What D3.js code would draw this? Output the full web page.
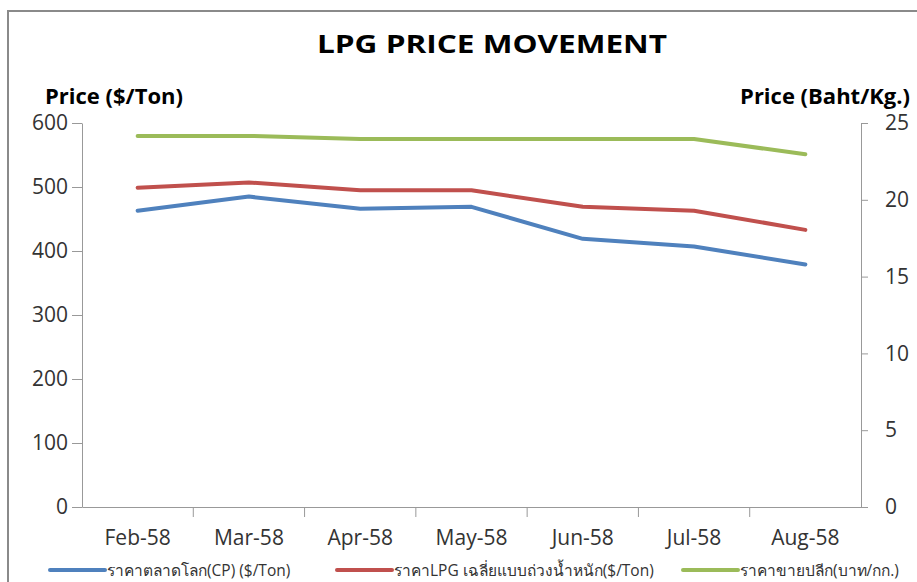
<!DOCTYPE html>
<html>
<head>
<meta charset="utf-8">
<script src="https://d3js.org/d3.v7.min.js"></script>
<style>
body { margin:0; background:#fff; }
text { font-family: "Open Sans", "Noto Sans", sans-serif; }
.axis path, .axis line { stroke:#999; }
.axis text { fill:#333; font-size:21px; font-family: "Open Sans", sans-serif; }
</style>
</head>
<body>
<svg id="chart" width="917" height="582"></svg>
<script>
// data
var months = ["Feb-58","Mar-58","Apr-58","May-58","Jun-58","Jul-58","Aug-58"];
var cpPrice = [463, 485, 466, 469, 419, 407, 379];        // $/Ton
var lpgAvgPrice = [499, 507, 495, 495, 469, 463, 433];    // $/Ton
var retailPrice = [24.16, 24.16, 23.96, 23.96, 23.96, 23.96, 22.96]; // Baht/Kg
var leftTicks = [0,100,200,300,400,500,600];
var rightTicks = [0,5,10,15,20,25];

var svg = d3.select("#chart");

// frame
svg.append("rect")
  .attr("x", 8).attr("y", 11)
  .attr("width", 930).attr("height", 600)
  .attr("fill", "none").attr("stroke", "#8a8a8a").attr("stroke-width", 2);

var plotLeft = 82, plotRight = 861, plotTop = 123, plotBottom = 507;

var x = d3.scaleBand().domain(months).range([plotLeft, plotRight]);
var yL = d3.scaleLinear().domain([0, 600]).range([plotBottom, plotTop]);
var yR = d3.scaleLinear().domain([0, 25]).range([plotBottom, plotTop]);

// axes
svg.append("g").attr("class","axis")
  .attr("transform","translate("+plotLeft+",0)")
  .call(d3.axisLeft(yL).tickValues(leftTicks).tickSize(10).tickSizeOuter(0).tickPadding(4));

svg.append("g").attr("class","axis")
  .attr("transform","translate("+plotRight+",0)")
  .call(d3.axisRight(yR).tickValues(rightTicks).tickSize(7).tickSizeOuter(0).tickPadding(17));

var xAxis = svg.append("g").attr("class","axis")
  .attr("transform","translate(0,"+plotBottom+")")
  .call(d3.axisBottom(x).tickSize(0).tickSizeOuter(0).tickPadding(23));
// ticks between categories
xAxis.selectAll(".sep")
  .data(months.slice(1))
  .enter().append("line")
  .attr("x1", function(d){ return x(d); })
  .attr("x2", function(d){ return x(d); })
  .attr("y1", 0).attr("y2", 10)
  .attr("stroke", "#999");

// lines
var series = [
  { name:"ราคาตลาดโลก(CP) ($/Ton)", values: cpPrice, scale: yL, color:"#4F81BD" },
  { name:"ราคาLPG เฉลี่ยแบบถ่วงน้ำหนัก($/Ton)", values: lpgAvgPrice, scale: yL, color:"#C0504D" },
  { name:"ราคาขายปลีก(บาท/กก.)", values: retailPrice, scale: yR, color:"#9BBB59" }
];

series.forEach(function(s){
  svg.append("path")
    .datum(s.values)
    .attr("fill","none")
    .attr("stroke", s.color)
    .attr("stroke-width", 4)
    .attr("stroke-linejoin","round")
    .attr("stroke-linecap","round")
    .attr("d", d3.line()
      .x(function(d,i){ return x(months[i]) + x.bandwidth()/2; })
      .y(function(d){ return s.scale(d); }));
});

// titles
svg.append("text")
  .attr("x", 492).attr("y", 53)
  .attr("text-anchor","middle")
  .attr("font-size", 25).attr("font-weight","bold")
  .attr("textLength", 350).attr("lengthAdjust", "spacingAndGlyphs")
  .text("LPG PRICE MOVEMENT");

svg.append("text")
  .attr("x", 45).attr("y", 104)
  .attr("font-size", 22).attr("font-weight","bold")
  .text("Price ($/Ton)");

svg.append("text")
  .attr("x", 910).attr("y", 104)
  .attr("text-anchor","end")
  .attr("font-size", 22).attr("font-weight","bold")
  .text("Price (Baht/Kg.)");

// legend
var legendX = [50, 337, 683];
var legend = svg.selectAll(".legend")
  .data(series)
  .enter().append("g")
  .attr("transform", function(d,i){ return "translate("+legendX[i]+",570)"; });
legend.append("line")
  .attr("x1",0).attr("x2",55).attr("y1",0).attr("y2",0)
  .attr("stroke", function(d){ return d.color; })
  .attr("stroke-width", 4).attr("stroke-linecap","round");
legend.append("text")
  .attr("x", 57).attr("y", 6)
  .attr("font-size", 15.5).attr("fill","#333")
  .text(function(d){ return d.name; });
</script>
</body>
</html>
